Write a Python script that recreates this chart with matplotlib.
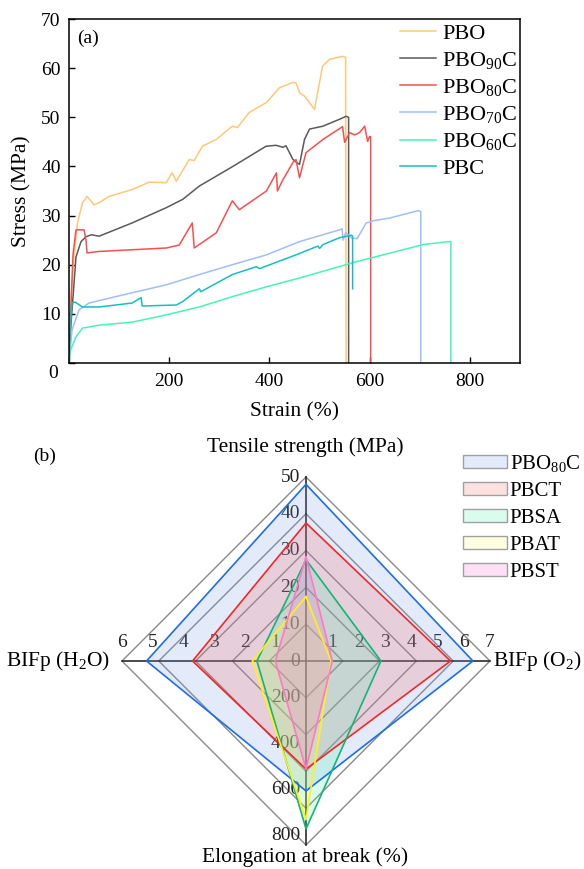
import matplotlib
matplotlib.use('Agg')
import matplotlib.pyplot as plt
from matplotlib.patches import Patch
from matplotlib.colors import to_rgba

plt.rcParams['font.family'] = ['Liberation Serif', 'DejaVu Serif']
plt.rcParams['mathtext.fontset'] = 'custom'
plt.rcParams['mathtext.rm'] = 'Liberation Serif'
plt.rcParams['mathtext.it'] = 'Liberation Serif:italic'

# (a) stress-strain curves
pbo_strain = [0, 4, 10, 17, 27, 36, 50, 60, 80, 100, 126, 160, 194, 206, 214, 240, 250, 266, 294,
              326, 336, 360, 394, 420, 447, 453, 460, 470, 490, 506, 520, 546, 552, 553]
pbo_stress = [0, 12.9, 21.6, 28.5, 32.6, 33.9, 32.2, 32.6, 33.9, 34.5, 35.3, 36.8, 36.7, 38.7, 37.0,
              41.4, 41.2, 44.1, 45.5, 48.2, 47.9, 51.0, 53.0, 56.0, 57.1, 57.0, 55.0, 54.3, 51.6,
              60.4, 61.8, 62.4, 62.2, 0]

pbo90_strain = [0, 4, 14, 24, 34, 45, 60, 126, 194, 227, 260, 327, 393, 413, 427, 433, 447, 460,
                470, 480, 507, 540, 553, 558, 558]
pbo90_stress = [0, 8, 21.6, 24.7, 25.7, 26.1, 25.8, 28.5, 31.6, 33.3, 36.0, 40.0, 44.1, 44.3, 43.9,
                44.2, 41.4, 40.4, 45.5, 47.6, 48.2, 49.6, 50.2, 50.0, 0]

pbo80_strain = [0, 4, 8, 14, 30, 34, 36, 60, 194, 220, 246, 250, 294, 326, 340, 394, 414, 416, 427,
                447, 453, 460, 473, 507, 546, 550, 560, 570, 580, 590, 596, 600, 602, 602]
pbo80_stress = [0, 12, 22, 27.1, 27.1, 25.0, 22.4, 22.7, 23.4, 24.0, 28.5, 23.4, 26.5, 33.0, 31.2,
                35.0, 38.7, 35.0, 37.3, 40.8, 41.4, 37.7, 42.8, 45.5, 48.1, 44.9, 46.9, 46.4, 46.9,
                48.2, 45.1, 46.1, 46.0, 0]

pbo70_strain = [0, 6, 20, 40, 126, 194, 260, 326, 394, 460, 540, 545, 547, 552, 565, 575, 593, 610,
                640, 697, 702, 702]
pbo70_stress = [0, 6.7, 10.8, 12.2, 14.3, 15.9, 18.0, 20.0, 22.0, 24.7, 27.1, 27.3, 25.0, 26.5,
                25.4, 25.3, 28.5, 29.0, 29.5, 31.0, 30.8, 0]

pbo60_strain = [0, 3, 14, 27, 60, 126, 194, 260, 326, 394, 460, 573, 707, 757, 762, 762]
pbo60_stress = [0, 2.6, 5.3, 7.1, 7.7, 8.3, 9.8, 11.4, 13.5, 15.5, 17.3, 20.6, 24.1, 24.7, 24.7, 0]

pbc_strain = [0, 3, 6, 12, 27, 60, 126, 144, 146, 214, 227, 260, 263, 326, 374, 380, 427, 453, 480,
              497, 500, 507, 540, 564, 566, 566]
pbc_stress = [0, 8, 12.2, 12.4, 11.4, 11.4, 12.2, 13.3, 11.6, 11.8, 12.5, 15.1, 14.5, 18.0, 19.6,
              19.2, 21.0, 22.0, 23.1, 23.8, 23.3, 24.1, 25.5, 26.0, 25.8, 15.1]

curve_labels = ['PBO', r'PBO$_{\mathregular{90}}$C', r'PBO$_{\mathregular{80}}$C',
                r'PBO$_{\mathregular{70}}$C', r'PBO$_{\mathregular{60}}$C', 'PBC']
curve_colors = ['#FFC878', '#5A5A5A', '#F55050', '#A0BEFA', '#46F5B4', '#14BEC3']

# (b) radar chart
radar_axes = ['Tensile strength (MPa)', r'BIFp (O$_{\mathregular{2}}$)',
              'Elongation at break (%)', r'BIFp (H$_{\mathregular{2}}$O)']
radar_max = [50, 7, 800, 6]
radar_names = [r'PBO$_{\mathregular{80}}$C', 'PBCT', 'PBSA', 'PBAT', 'PBST']
pbo80c_vals = [48.0, 6.35, 565, 5.2]
pbct_vals = [37.5, 5.5, 470, 3.7]
pbsa_vals = [27.5, 2.85, 730, 1.6]
pbat_vals = [17.5, 0.95, 690, 1.75]
pbst_vals = [28.3, 1.0, 470, 1.0]
radar_edge = ['#1E6EE6', '#F02828', '#14B478', '#FFF01E', '#FF78C8']
radar_fill = ['#7396E1', '#F56464', '#46F0AF', '#FFF564', '#F564CD']

W, H = 584, 869


def fx(px):
    return px / W


def fy(py):
    return 1 - py / H


fig = plt.figure(figsize=(5.84, 8.69), dpi=100)

# ---- (a) ----
ax = fig.add_axes([fx(69), fy(363), (520 - 69) / W, (363 - 19) / H])
series = [(pbo_strain, pbo_stress), (pbo90_strain, pbo90_stress), (pbo80_strain, pbo80_stress),
          (pbo70_strain, pbo70_stress), (pbo60_strain, pbo60_stress), (pbc_strain, pbc_stress)]
for (s, t), lab, c in zip(series, curve_labels, curve_colors):
    ax.plot(s, t, color=c, lw=1.1, label=lab)

ax.set_xlim(0, 900)
ax.set_ylim(0, 70)
ax.set_xticks([0, 200, 400, 600, 800])
ax.set_xticklabels(['', '200', '400', '600', '800'])
ax.set_yticks(range(0, 71, 10))
ax.set_yticklabels([''] + [str(v) for v in range(10, 71, 10)])
ax.tick_params(direction='in', length=4, width=1, labelsize=14, pad=6)
ax.tick_params(axis='x', pad=7)
for sp in ax.spines.values():
    sp.set_linewidth(1.1)
ax.annotate('0', xy=(0, 0), xytext=(-16, -10), textcoords='offset pixels',
            ha='center', va='center', fontsize=14, annotation_clip=False)
ax.set_xlabel('Strain (%)', fontsize=15.5, labelpad=9)
ax.set_ylabel('Stress (MPa)', fontsize=15.5, labelpad=7)
ax.text(0.018, 0.945, '(a)', transform=ax.transAxes, ha='left', va='center', fontsize=14)
ax.legend(loc='upper left', bbox_to_anchor=(fx(400), fy(23)), bbox_transform=fig.transFigure,
          frameon=False, fontsize=16, handlelength=1.6, handletextpad=0.3,
          labelspacing=0.28, borderaxespad=0, borderpad=0)

# ---- (b) ----
R = 184.0
half = 202.0
ax2 = fig.add_axes([fx(306 - half), fy(661 + half), 2 * half / W, 2 * half / H])
ax2.set_xlim(-half / R, half / R)
ax2.set_ylim(-half / R, half / R)
ax2.axis('off')

dirs = [(0, 1), (1, 0), (0, -1), (-1, 0)]


def radar_xy(vals):
    xs = [v / m * d[0] for v, m, d in zip(vals, radar_max, dirs)]
    ys = [v / m * d[1] for v, m, d in zip(vals, radar_max, dirs)]
    return xs + xs[:1], ys + ys[:1]


for f in [0.2, 0.4, 0.6, 0.8, 1.0]:
    xs, ys = radar_xy([f * m for m in radar_max])
    ax2.plot(xs, ys, color='#8A8A8A', lw=1.0, zorder=1)
ax2.plot([0, 0], [-1, 1], color='#1A1A1A', lw=1.1, zorder=1.5)
ax2.plot([-1, 1], [0, 0], color='#1A1A1A', lw=1.1, zorder=1.5)

tk = dict(fontsize=14, color='#222222', zorder=2)
for v in [10, 20, 30, 40, 50]:
    ax2.text(-6 / R, v / 50, str(v), ha='right', va='center', **tk)
ax2.text(-6 / R, 0, '0', ha='right', va='center', **tk)
for v in range(1, 8):
    ax2.text(v / 7, 10 / R, str(v), ha='center', va='bottom', **tk)
for v in range(1, 7):
    ax2.text(-v / 6, 10 / R, str(v), ha='center', va='bottom', **tk)
for v in [200, 400, 600, 800]:
    ax2.text(-6 / R, -v / 800 + 9 / R, str(v), ha='right', va='center', **tk)

radar_vals = [pbo80c_vals, pbct_vals, pbsa_vals, pbat_vals, pbst_vals]
for vals, ec, fc in zip(radar_vals, radar_edge, radar_fill):
    xs, ys = radar_xy(vals)
    ax2.fill(xs, ys, facecolor=fc, alpha=0.2, edgecolor='none', zorder=3)
    ax2.plot(xs, ys, color=ec, lw=1.2, zorder=4)

handles = [Patch(facecolor=to_rgba(fc, 0.2), edgecolor='#A0A0A0', lw=1) for fc in radar_fill]
fig.legend(handles, radar_names, loc='upper left', bbox_to_anchor=(fx(463), fy(453)),
           frameon=False, fontsize=15, handlelength=2.1, handleheight=0.6, handletextpad=0.15,
           labelspacing=0.38, borderaxespad=0, borderpad=0)

lab = dict(fontsize=15.5, va='center')
fig.text(fx(305), fy(447), radar_axes[0], ha='center', **lab)
fig.text(fx(493), fy(661), radar_axes[1], ha='left', **lab)
fig.text(fx(305), fy(857), radar_axes[2], ha='center', **lab)
fig.text(fx(110), fy(661), radar_axes[3], ha='right', **lab)
fig.text(fx(33), fy(456), '(b)', ha='left', va='center', fontsize=14)

fig.savefig('out.png', dpi=100)
